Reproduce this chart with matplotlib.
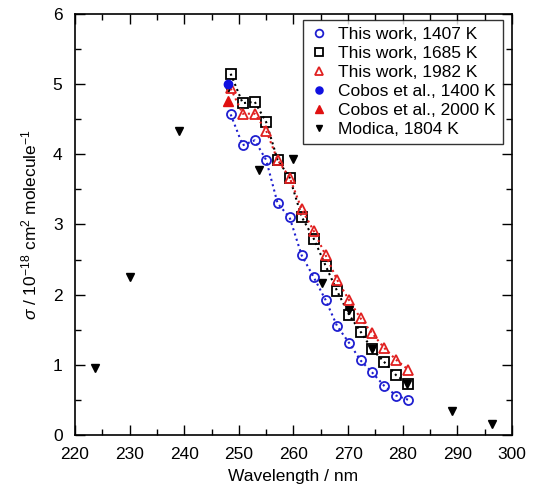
import matplotlib
matplotlib.use("Agg")
import matplotlib.pyplot as plt
from matplotlib.ticker import MultipleLocator

plt.rcParams['font.family'] = ['Liberation Sans', 'DejaVu Sans']
plt.rcParams['mathtext.fontset'] = 'custom'
plt.rcParams['mathtext.rm'] = 'Liberation Sans'
plt.rcParams['mathtext.it'] = 'Liberation Sans:italic'

wl = [248.5, 250.7, 252.9, 255.0, 257.1, 259.3, 261.5, 263.7, 265.9, 268.0,
      270.2, 272.3, 274.4, 276.6, 278.8, 281.0]
tw_1407 = [4.57, 4.13, 4.20, 3.92, 3.30, 3.10, 2.56, 2.25, 1.92, 1.55,
           1.31, 1.06, 0.89, 0.70, 0.56, 0.50]
tw_1685 = [5.15, 4.73, 4.75, 4.46, 3.92, 3.67, 3.11, 2.80, 2.41, 2.05,
           1.71, 1.47, 1.22, 1.04, 0.85, 0.73]
tw_1982 = [4.94, 4.58, 4.58, 4.34, 3.92, 3.67, 3.22, 2.91, 2.56, 2.21,
           1.92, 1.66, 1.45, 1.24, 1.07, 0.93]

cobos1400_x = [248.0]
cobos1400_y = [5.00]
cobos2000_x = [248.0]
cobos2000_y = [4.76]

modica_x = [223.6, 230.0, 239.0, 248.0, 253.7, 259.9, 265.2, 270.1, 274.4, 280.8, 289.0, 296.4]
modica_y = [0.96, 2.25, 4.33, 4.95, 3.78, 3.94, 2.17, 1.78, 1.22, 0.73, 0.34, 0.15]

fig = plt.figure(figsize=(5.36, 4.88), dpi=100)
ax = fig.add_axes([0.14, 0.109, 0.815, 0.862])

ax.plot(wl, tw_1407, ':', color='#1f1fd0', lw=1.5, marker='o', ms=6.5,
        mfc='none', mec='#1f1fd0', mew=1.3, label='This work, 1407 K', zorder=3)
ax.plot(wl, tw_1685, ':', color='black', lw=1.5, marker='s', ms=6.5,
        mfc='none', mec='black', mew=1.3, label='This work, 1685 K', zorder=3)
ax.plot(wl, tw_1982, ':', color='#e02020', lw=1.5, marker='^', ms=7,
        mfc='none', mec='#e02020', mew=1.3, label='This work, 1982 K', zorder=3)
ax.plot(cobos1400_x, cobos1400_y, 'o', color='#1010e0', ms=6,
        label='Cobos et al., 1400 K', zorder=4)
ax.plot(cobos2000_x, cobos2000_y, '^', color='#e01010', ms=6.5,
        label='Cobos et al., 2000 K', zorder=4)
ax.plot(modica_x, modica_y, 'v', color='black', ms=5.5,
        label='Modica, 1804 K', zorder=2)

ax.set_xlim(220, 300)
ax.set_ylim(0, 6)
ax.xaxis.set_major_locator(MultipleLocator(10))
ax.xaxis.set_minor_locator(MultipleLocator(5))
ax.yaxis.set_major_locator(MultipleLocator(1))
ax.yaxis.set_minor_locator(MultipleLocator(0.5))
ax.tick_params(which='both', direction='in', top=True, right=True, labelsize=12.5, width=1)
ax.tick_params(which='major', length=7)
ax.tick_params(which='minor', length=4)
ax.tick_params(axis='x', pad=9)
ax.tick_params(axis='y', pad=9)
for s in ax.spines.values():
    s.set_linewidth(1.2)

ax.set_xlabel('Wavelength / nm', fontsize=12.5, labelpad=5)
ax.set_ylabel(r'$\sigma$ / 10$^{-18}$ cm$^{2}$ molecule$^{-1}$', fontsize=12.5, labelpad=10)

leg = ax.legend(loc='upper right', fontsize=12.5, frameon=True, fancybox=False,
                edgecolor='black', handlelength=1.0, handletextpad=0.6,
                borderpad=0.4, labelspacing=0.22, markerscale=0.85,
                borderaxespad=0, bbox_to_anchor=(0.979, 0.986))
leg.get_frame().set_linewidth(1.0)
for h in leg.get_lines():
    h.set_linestyle('none')

fig.savefig('out.png', dpi=100)
